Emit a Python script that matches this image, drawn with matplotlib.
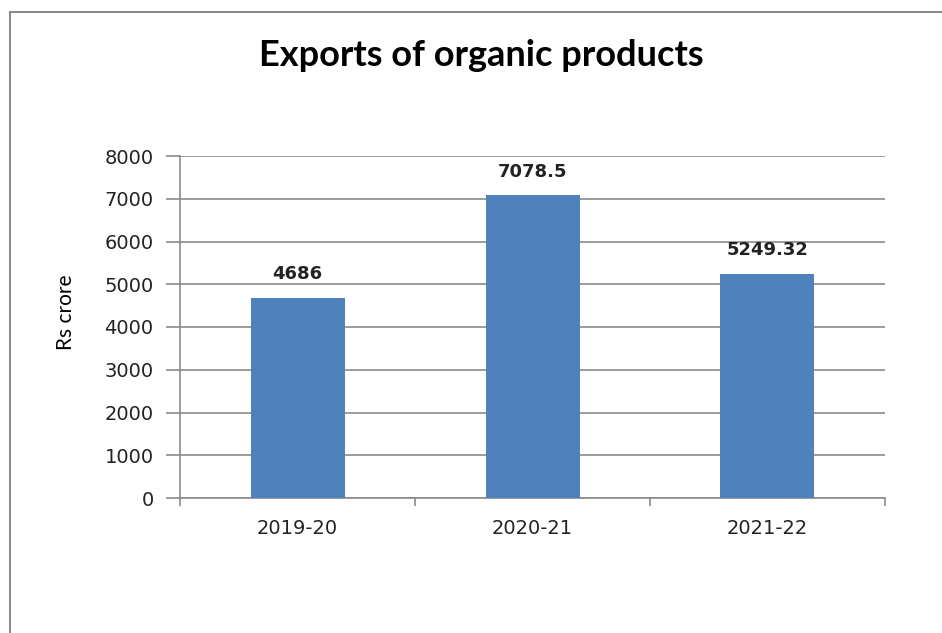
import matplotlib
matplotlib.use('Agg')
import matplotlib.pyplot as plt
from matplotlib.patches import Rectangle

# export values in Rs crore
years = ['2019-20', '2020-21', '2021-22']
exports = [4686, 7078.5, 5249.32]
value_labels = ['4686', '7078.5', '5249.32']
yticks = [0, 1000, 2000, 3000, 4000, 5000, 6000, 7000, 8000]

W, H = 942, 633
fig = plt.figure(figsize=(W / 100, H / 100), dpi=100)

# outer chart border (runs past the right and bottom edges)
fig.patches.append(Rectangle((10 / W, -0.01), 1.0, 1 - 12 / H + 0.01,
                             transform=fig.transFigure, fill=False,
                             edgecolor='#8c8c8c', linewidth=1.5))

ax = fig.add_axes([180 / W, 1 - 498 / H, 705 / W, 342 / H])
x = range(len(years))
ax.bar(x, exports, width=0.4, color='#4f81bd', zorder=3)
ax.set_xlim(-0.5, 2.5)
ax.set_ylim(0, 8000)
ax.set_yticks(yticks)
ax.set_yticklabels([str(t) for t in yticks], fontsize=14, color='#222222')
ax.yaxis.grid(True, color='#8a8a8a', linewidth=1.2, zorder=0)
ax.tick_params(axis='y', length=10, width=1.2, color='#8a8a8a', pad=9)

# category separators below the axis
ax.set_xticks([-0.5, 0.5, 1.5, 2.5])
ax.set_xticklabels([])
ax.tick_params(axis='x', length=6, width=1.2, color='#8a8a8a')
for i, yr in enumerate(years):
    ax.text(i, -480, yr, ha='center', va='top', fontsize=14, color='#222222')

for s in ['top', 'right']:
    ax.spines[s].set_visible(False)
for s in ['left', 'bottom']:
    ax.spines[s].set_color('#8a8a8a')
    ax.spines[s].set_linewidth(1.2)

for i, (v, lab) in enumerate(zip(exports, value_labels)):
    ax.text(i, v + 340, lab, ha='center', va='bottom', fontsize=13,
            fontweight='bold', color='#222222')

fig.text(66 / W, 1 - 312 / H, 'Rs crore', rotation=90, ha='center',
         va='center', fontsize=15, family='Lato')

fig.text(481 / W, 1 - 55 / H, 'Exports of organic products', ha='center',
         va='center', fontsize=26, fontweight='bold', family='Lato')

fig.savefig('out.png', dpi=100)
